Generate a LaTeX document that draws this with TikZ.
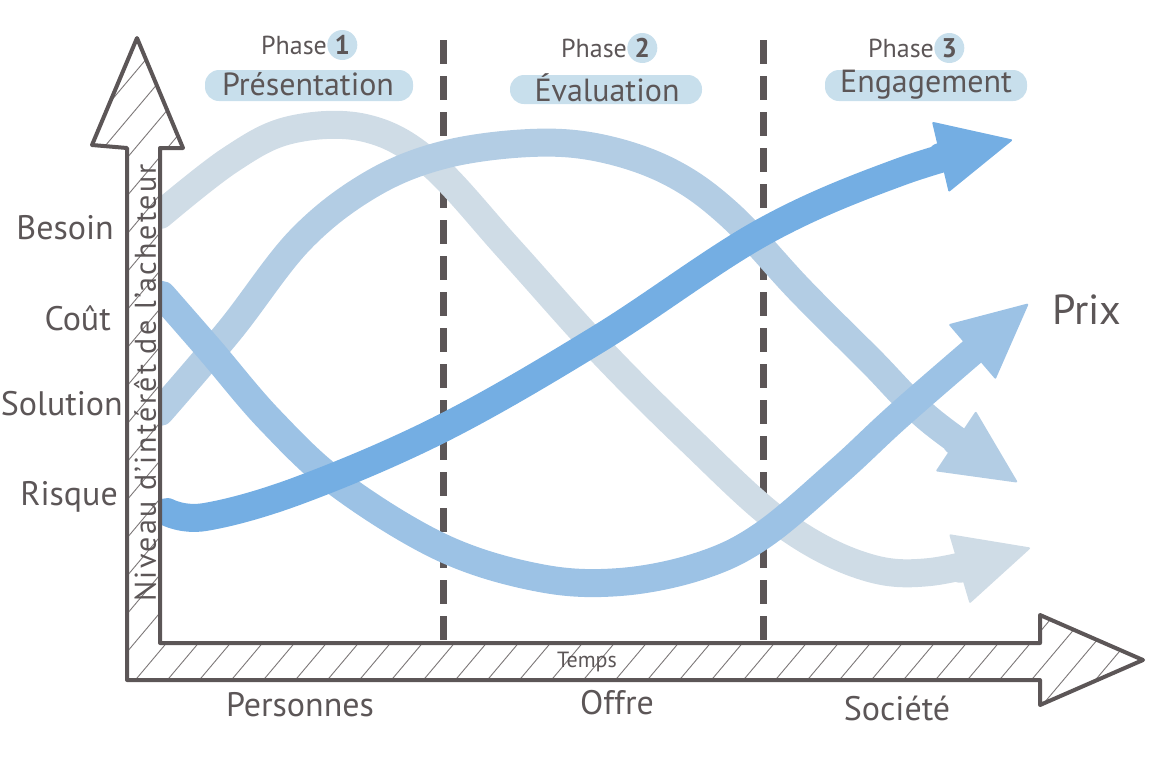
\documentclass[tikz,border=0pt]{standalone}
\usepackage{fontspec}
\setmainfont{PT Sans}
\usetikzlibrary{arrows.meta,positioning}
\definecolor{ink}{HTML}{5C5657}
\definecolor{hl}{HTML}{C8DFEC}
\definecolor{cBesoin}{HTML}{CFDCE6}
\definecolor{cSol}{HTML}{B3CDE4}
\definecolor{cCout}{HTML}{9CC2E5}
\definecolor{cRisque}{HTML}{74AEE3}
\begin{document}
\begin{tikzpicture}[x=1pt,y=-1pt,
  axisline/.style={draw=ink, line width=4pt, line join=round},
  hatchline/.style={draw=ink!80, line width=0.9pt},
  phaseline/.style={draw=ink, line width=7pt, dash pattern=on 24pt off 12pt},
  curve/.style={line width=28pt, line cap=round, -{Triangle[length=75pt,width=72pt,round,line width=2pt]}},
  lab/.style={font=\fontsize{34}{40}\selectfont, text=ink, inner sep=0pt},
  phasename/.style={font=\fontsize{32}{38}\selectfont, text=ink, inner sep=0pt},
  phaseword/.style={font=\fontsize{26}{30}\selectfont, text=ink, inner sep=0pt},
  num/.style={circle, fill=hl, minimum size=30pt, inner sep=0pt, font=\fontsize{27}{30}\selectfont\bfseries, text=ink},
  hlbar/.style={fill=hl, rounded corners=14pt},
  small/.style={font=\fontsize{22}{26}\selectfont, text=ink, inner sep=0pt}
]
\useasboundingbox (0,0) rectangle (1158,756);

% highlights behind phase names
\fill[hlbar] (205,70) rectangle (413,101);
\fill[hlbar] (510,75) rectangle (702,104);
\fill[hlbar] (825,70) rectangle (1027,101);

% phase headers
\node[phaseword] (ph1) at (294,45) {Phase};
\node[num, right=0pt of ph1] (n1) {1};
\node[phaseword] (ph2) at (594,48) {Phase};
\node[num, right=0pt of ph2] (n2) {2};
\node[phaseword] (ph3) at (901,48) {Phase};
\node[num, right=0pt of ph3] (n3) {3};
\node[phasename] (t1) at (308,84) {Présentation};
\node[phasename] (t2) at (607,88) {Évaluation};
\node[phasename] (t3) at (926,85) {Engagement};

% phase separators
\coordinate (d1a) at (443,40); \coordinate (d1b) at (443,643);
\coordinate (d2a) at (763,40); \coordinate (d2b) at (763,643);
\draw[phaseline] (d1a) -- (d1b);
\draw[phaseline] (d2a) -- (d2b);

% curves
\draw[curve, cBesoin] plot[smooth, tension=0.6] coordinates {(160,215) (230,160) (290,130) (365,128) (430,163) (510,250) (600,350) (690,440) (780,522) (860,565) (930,572) (1030,548)};
\draw[curve, cSol] plot[smooth, tension=0.6] coordinates {(160,412) (230,330) (300,240) (370,185) (443,155) (530,143) (600,148) (670,172) (730,215) (800,290) (870,360) (930,420) (1017,482)};
\draw[curve, cCout] plot[smooth, tension=0.6] coordinates {(162,295) (210,350) (270,420) (340,485) (443,548) (540,578) (620,582) (700,566) (763,535) (840,470) (905,410) (1028,304)};
\draw[curve, cRisque] plot[smooth, tension=0.6] coordinates {(167,512) (205,517) (300,490) (443,428) (600,338) (763,232) (900,172) (1012,140)};

% axes (hatched hollow arrows)
\begin{scope}
\clip (127,680) -- (127,148) -- (92,145) -- (137,38) -- (183,148) -- (160,148) -- (160,643) -- (1040,643) -- (1040,615) -- (1143,660) -- (1040,705) -- (1040,680) -- cycle;
\fill[white] (0,0) rectangle (1158,756);
\foreach \i in {-700,-668,...,1200} \draw[hatchline] (\i,760) -- ++(640,-760);
\end{scope}
\draw[axisline] (127,680) -- (127,148) -- (92,145) -- (137,38) -- (183,148) -- (160,148) -- (160,643) -- (1040,643) -- (1040,615) -- (1143,660) -- (1040,705) -- (1040,680) -- cycle;

% axis labels
\node[small, rotate=90, font=\fontsize{30}{32}\selectfont\addfontfeatures{LetterSpace=8}] (ylab) at (145,383) {Niveau d'intérêt de l'acheteur};
\node[small] (temps) at (587,662) {Temps};

% left labels
\node[lab, anchor=east] (besoin) at (114,228) {Besoin};
\node[lab, anchor=east] (cout) at (111,318) {Coût};
\node[lab, anchor=east] (solution) at (123,404) {Solution};
\node[lab, anchor=east] (risque) at (118,497) {Risque};

% bottom labels
\node[lab] (pers) at (300,705) {Personnes};
\node[lab] (offre) at (617,703) {Offre};
\node[lab] (soc) at (897,708) {Société};

% right label
\node[lab, font=\fontsize{42}{48}\selectfont] (prix) at (1087,310) {Prix};
\end{tikzpicture}
\end{document}
